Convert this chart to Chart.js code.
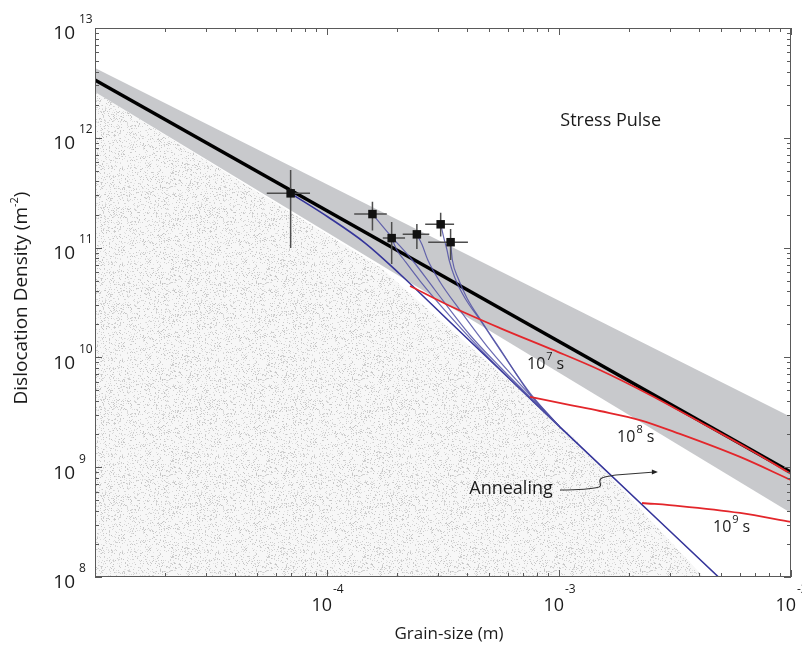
<!DOCTYPE html>
<html>
<head>
<meta charset="utf-8">
<title>Dislocation density vs grain size</title>
<script src="https://cdn.jsdelivr.net/npm/chart.js@4.4.0/dist/chart.umd.min.js"></script>
<style>
  html, body { margin: 0; padding: 0; background: #fff; }
  #wrap { width: 802px; height: 653px; }
</style>
</head>
<body>
<div id="wrap"><canvas id="grainChart" width="802" height="653"></canvas></div>
<script>
// axis ranges + decade labels
const xMin = 1e-5, xMax = 1e-2;
const yMin = 1e8, yMax = 1e13;
const xTickExps = [-4, -3, -2];
const yTickExps = [8, 9, 10, 11, 12, 13];

// measured samples (grain size in m, density in m^-2) with error bars
const sampleSize    = [6.97e-5, 1.57e-4, 1.90e-4, 2.44e-4, 3.09e-4, 3.41e-4];
const sampleDensity = [3.12e11, 2.02e11, 1.22e11, 1.32e11, 1.63e11, 1.12e11];
const sizeLow  = [5.50e-5, 1.31e-4, 1.74e-4, 2.12e-4, 2.65e-4, 2.73e-4];
const sizeHigh = [8.45e-5, 1.81e-4, 2.17e-4, 2.76e-4, 3.53e-4, 4.05e-4];
const densLow  = [9.9e10, 1.43e11, 7.1e10, 9.7e10, 1.26e11, 7.7e10];
const densHigh = [5.09e11, 2.62e11, 1.71e11, 1.64e11, 2.08e11, 1.48e11];

// piezometer line and its uncertainty band
const piezoSize = [1e-5, 1e-2];
const piezoDensity = [3.36e12, 9.0e8];
const bandHigh = [4.33e12, 2.87e9];
const bandLow  = [2.61e12, 3.83e8];

// stippled field
const stippleSize    = [1e-5, 1.69e-4, 1.15e-3, 4.2e-3];
const stippleDensity = [2.61e12, 6.65e10, 1.88e9, 1e8];

// lower envelope (blue)
const envelopeSize    = [6.97e-5, 1.01e-4, 1.46e-4, 2.06e-4, 3.39e-4, 1e-3, 4.87e-3];
const envelopeDensity = [3.12e11, 1.90e11, 1.10e11, 5.75e10, 2.10e10, 2.37e9, 1e8];

// decay paths from each sample (blue)
const decaySize = [
  [1.57e-4, 1.87e-4, 2.33e-4, 2.92e-4, 4.13e-4, 5.57e-4, 7.50e-4, 1.0e-3],
  [1.90e-4, 2.00e-4, 2.15e-4, 2.52e-4, 3.39e-4, 5.04e-4, 1.0e-3],
  [2.44e-4, 2.57e-4, 2.72e-4, 3.07e-4, 3.74e-4, 5.04e-4, 7.50e-4, 1.0e-3],
  [3.09e-4, 3.19e-4, 3.29e-4, 3.36e-4, 3.56e-4, 3.93e-4, 4.57e-4, 5.57e-4, 7.50e-4, 1.0e-3],
  [3.41e-4, 3.44e-4, 3.47e-4, 3.67e-4, 4.01e-4, 4.66e-4, 5.68e-4, 7.50e-4, 1.0e-3]
];
const decayDensity = [
  [2.02e11, 1.30e11, 7.71e10, 4.11e10, 1.60e10, 8.18e9, 4.36e9, 2.37e9],
  [1.22e11, 9.51e10, 7.71e10, 4.96e10, 2.38e10, 9.67e9, 2.37e9],
  [1.32e11, 1.06e11, 7.71e10, 4.86e10, 2.70e10, 1.17e10, 4.55e9, 2.37e9],
  [1.63e11, 1.22e11, 9.51e10, 7.71e10, 5.29e10, 3.48e10, 2.19e10, 1.17e10, 4.74e9, 2.37e9],
  [1.12e11, 9.12e10, 7.71e10, 5.29e10, 3.48e10, 2.10e10, 1.12e10, 4.64e9, 2.37e9]
];

// isochrons (red), 10^7, 10^8, 10^9 s
const iso7Size = [2.28e-4, 3.39e-4, 5.57e-4, 9.42e-4, 1.50e-3, 2.47e-3, 4.05e-3, 6.66e-3, 1.0e-2];
const iso7Density = [4.47e10, 2.94e10, 1.85e10, 1.17e10, 7.68e9, 4.55e9, 2.58e9, 1.44e9, 8.67e8];
const iso8Size = [7.50e-4, 1.12e-3, 1.50e-3, 2.23e-3, 3.32e-3, 6.03e-3, 1.0e-2];
const iso8Density = [4.36e9, 3.68e9, 3.25e9, 2.69e9, 2.01e9, 1.24e9, 7.64e8];
const iso9Size = [2.28e-3, 3.32e-3, 6.03e-3, 1.0e-2];
const iso9Density = [4.72e8, 4.43e8, 3.83e8, 3.17e8];

// label anchors (data coords)
const isoExps = [7, 8, 9];
const isoLabelSize = [7.28e-4, 1.78e-3, 4.61e-3];
const isoLabelDensity = [8.71e9, 1.88e9, 2.85e8];

const FONT = '"Open Sans", "Noto Sans", sans-serif';

function pts(xs, ys) {
  return xs.map((v, i) => ({ x: v, y: ys[i] }));
}

// speckle texture for the stippled field (deterministic)
function makeStipple() {
  const c = document.createElement('canvas');
  c.width = 96; c.height = 96;
  const g = c.getContext('2d');
  g.fillStyle = '#f7f7f7';
  g.fillRect(0, 0, 96, 96);
  let seed = 4242;
  const next = () => (seed = (seed * 16807) % 2147483647) / 2147483647;
  for (let i = 0; i < 1700; i++) {
    const v = 195 + Math.floor(next() * 35);
    g.fillStyle = 'rgb(' + v + ',' + v + ',' + v + ')';
    g.fillRect(Math.floor(next() * 96), Math.floor(next() * 96), 1, 1);
  }
  return g.createPattern(c, 'repeat');
}

const datasets = [];
// order: lower number is painted on top
datasets.push({
  data: pts(sampleSize, sampleDensity), order: 0,
  showLine: false, pointStyle: 'rect', pointRadius: 6,
  backgroundColor: '#111', borderColor: '#111', borderWidth: 0
});
const samplesIndex = 0;

[[iso7Size, iso7Density], [iso8Size, iso8Density], [iso9Size, iso9Density]].forEach(function (s) {
  datasets.push({
    data: pts(s[0], s[1]), order: 1, showLine: true, pointRadius: 0,
    borderColor: '#e3262b', borderWidth: 1.8, cubicInterpolationMode: 'monotone', fill: false
  });
});

decaySize.forEach(function (xs, i) {
  datasets.push({
    data: pts(xs, decayDensity[i]), order: 2, showLine: true, pointRadius: 0,
    borderColor: 'rgba(80, 80, 165, 0.85)', borderWidth: 1.2, cubicInterpolationMode: 'monotone', fill: false
  });
});

datasets.push({
  data: pts(envelopeSize, envelopeDensity), order: 2, showLine: true, pointRadius: 0,
  borderColor: '#34349a', borderWidth: 1.6, cubicInterpolationMode: 'monotone', fill: false
});

datasets.push({
  data: pts(piezoSize, piezoDensity), order: 3, showLine: true, pointRadius: 0,
  borderColor: '#000', borderWidth: 3.5, fill: false
});

datasets.push({
  data: pts(piezoSize, bandHigh), order: 4, showLine: true, pointRadius: 0,
  borderColor: 'transparent', borderWidth: 0, fill: '+1', backgroundColor: '#c8c9cc'
});
datasets.push({
  data: pts(piezoSize, bandLow), order: 4, showLine: true, pointRadius: 0,
  borderColor: 'transparent', borderWidth: 0, fill: false
});

datasets.push({
  data: pts(stippleSize, stippleDensity), order: 5, showLine: true, pointRadius: 0,
  borderColor: 'transparent', borderWidth: 0, fill: 'start', backgroundColor: makeStipple()
});

// draws "10" with a raised exponent
function powerText(ctx, xRight, yMid, exp, baseSize, supSize, supDx, supDy) {
  ctx.font = baseSize + 'px ' + FONT;
  ctx.textAlign = 'right';
  ctx.textBaseline = 'middle';
  ctx.fillText('10', xRight, yMid);
  ctx.font = supSize + 'px ' + FONT;
  ctx.textAlign = 'left';
  ctx.fillText(String(exp), xRight + supDx, yMid + supDy);
}

const overlayPlugin = {
  id: 'overlay',
  beforeDatasetDraw(chart, args) {
    if (args.index !== samplesIndex) return;
    const ctx = chart.ctx, x = chart.scales.x, y = chart.scales.y;
    ctx.save();
    ctx.strokeStyle = '#4d4d4d';
    ctx.lineWidth = 1.5;
    for (let i = 0; i < sampleSize.length; i++) {
      const px = x.getPixelForValue(sampleSize[i]);
      const py = y.getPixelForValue(sampleDensity[i]);
      ctx.beginPath();
      ctx.moveTo(x.getPixelForValue(sizeLow[i]), py);
      ctx.lineTo(x.getPixelForValue(sizeHigh[i]), py);
      ctx.moveTo(px, y.getPixelForValue(densLow[i]));
      ctx.lineTo(px, y.getPixelForValue(densHigh[i]));
      ctx.stroke();
    }
    ctx.restore();
  },
  afterDraw(chart) {
    const ctx = chart.ctx, a = chart.chartArea;
    const x = chart.scales.x, y = chart.scales.y;
    ctx.save();

    // frame
    ctx.strokeStyle = '#5a5a5a';
    ctx.lineWidth = 1;
    ctx.strokeRect(a.left + 0.5, a.top + 0.5, a.right - a.left - 1, a.bottom - a.top - 1);

    // inward log ticks on all four sides
    ctx.beginPath();
    for (let e = Math.round(Math.log10(xMin)); e <= Math.round(Math.log10(xMax)); e++) {
      for (let m = 1; m <= 9; m++) {
        const v = m * Math.pow(10, e);
        if (v < xMin * 0.999 || v > xMax * 1.001) continue;
        const px = Math.round(x.getPixelForValue(v)) + 0.5;
        const len = m === 1 ? 7 : 4;
        ctx.moveTo(px, a.bottom); ctx.lineTo(px, a.bottom - len);
        ctx.moveTo(px, a.top); ctx.lineTo(px, a.top + len);
      }
    }
    for (let e = Math.round(Math.log10(yMin)); e <= Math.round(Math.log10(yMax)); e++) {
      for (let m = 1; m <= 9; m++) {
        const v = m * Math.pow(10, e);
        if (v < yMin * 0.999 || v > yMax * 1.001) continue;
        const py = Math.round(y.getPixelForValue(v)) + 0.5;
        const len = m === 1 ? 7 : 4;
        ctx.moveTo(a.left, py); ctx.lineTo(a.left + len, py);
        ctx.moveTo(a.right, py); ctx.lineTo(a.right - len, py);
      }
    }
    ctx.stroke();

    // tick labels
    ctx.fillStyle = '#1a1a1a';
    yTickExps.forEach(function (e) {
      const py = y.getPixelForValue(Math.pow(10, e));
      powerText(ctx, a.left - 20, py + 6, e, 19, 12, 4, -14);
    });
    xTickExps.forEach(function (e) {
      const px = x.getPixelForValue(Math.pow(10, e));
      powerText(ctx, px + 5, a.bottom + 29, e, 18, 12, 1, -16);
    });

    // axis titles
    ctx.font = '17px ' + FONT;
    ctx.textAlign = 'center';
    ctx.textBaseline = 'middle';
    ctx.fillText('Grain-size (m)', (a.left + a.right) / 2 + 6, a.bottom + 57);

    ctx.save();
    ctx.translate(22, 298);
    ctx.rotate(-Math.PI / 2);
    const t1 = 'Dislocation Density (m', t2 = '-2', t3 = ')';
    ctx.font = '19px ' + FONT;
    const w1 = ctx.measureText(t1).width, w3 = ctx.measureText(t3).width;
    ctx.font = '11px ' + FONT;
    const w2 = ctx.measureText(t2).width;
    let cx = -(w1 + w2 + w3) / 2;
    ctx.textAlign = 'left';
    ctx.font = '19px ' + FONT;
    ctx.fillText(t1, cx, 0);
    ctx.font = '11px ' + FONT;
    ctx.fillText(t2, cx + w1, -7);
    ctx.font = '19px ' + FONT;
    ctx.fillText(t3, cx + w1 + w2, 0);
    ctx.restore();

    // in-plot labels
    ctx.font = '18px ' + FONT;
    ctx.textAlign = 'center';
    ctx.fillText('Stress Pulse', x.getPixelForValue(1.67e-3), y.getPixelForValue(1.42e12));

    isoExps.forEach(function (e, i) {
      const lx = x.getPixelForValue(isoLabelSize[i]);
      const ly = y.getPixelForValue(isoLabelDensity[i]);
      ctx.textAlign = 'left';
      ctx.font = '16px ' + FONT;
      ctx.fillText('10', lx, ly);
      const w = ctx.measureText('10').width;
      ctx.font = '11px ' + FONT;
      ctx.fillText(String(e), lx + w + 1, ly - 7);
      const ws = ctx.measureText(String(e)).width;
      ctx.font = '16px ' + FONT;
      ctx.fillText('s', lx + w + ws + 5, ly);
    });

    // annealing label and arrow
    ctx.font = '18px ' + FONT;
    ctx.textAlign = 'center';
    ctx.fillText('Annealing', x.getPixelForValue(6.21e-4), y.getPixelForValue(6.33e8));
    const sx = x.getPixelForValue(1.01e-3), sy = y.getPixelForValue(6.19e8);
    const ex = x.getPixelForValue(2.59e-3), ey = y.getPixelForValue(9.04e8);
    ctx.strokeStyle = '#333';
    ctx.lineWidth = 1.1;
    ctx.beginPath();
    ctx.moveTo(sx, sy);
    ctx.bezierCurveTo(sx + 18, sy, sx + 32, sy - 1, sx + 39, sy - 3);
    ctx.bezierCurveTo(sx + 44, sy - 5, sx + 36, sy - 9, sx + 42, sy - 12);
    ctx.bezierCurveTo(sx + 46, sy - 14, sx + 50, sy - 14, sx + 56, sy - 15);
    ctx.lineTo(ex, ey);
    ctx.stroke();
    ctx.fillStyle = '#222';
    ctx.beginPath();
    ctx.moveTo(ex + 3, ey);
    ctx.lineTo(ex - 3, ey - 2.5);
    ctx.lineTo(ex - 3, ey + 2.5);
    ctx.closePath();
    ctx.fill();

    ctx.restore();
  }
};

new Chart(document.getElementById('grainChart'), {
  type: 'scatter',
  data: { datasets: datasets },
  options: {
    responsive: false,
    animation: false,
    layout: { padding: { left: 95, top: 28, right: 11, bottom: 76 } },
    plugins: { legend: { display: false }, tooltip: { enabled: false } },
    scales: {
      x: { type: 'logarithmic', min: xMin, max: xMax, display: false },
      y: { type: 'logarithmic', min: yMin, max: yMax, display: false }
    }
  },
  plugins: [overlayPlugin]
});
</script>
</body>
</html>
